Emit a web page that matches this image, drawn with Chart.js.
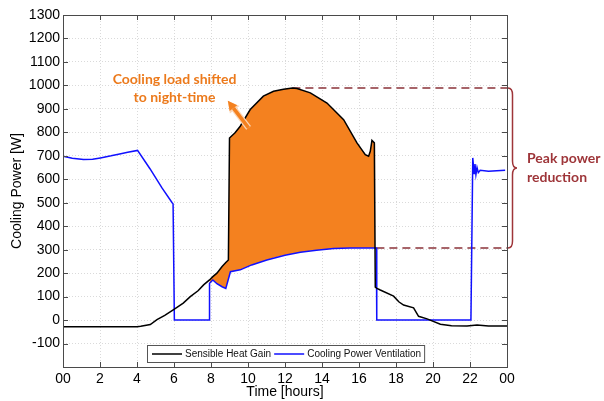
<!DOCTYPE html>
<html>
<head>
<meta charset="utf-8">
<style>
  html, body { margin: 0; padding: 0; background: #fff; }
  #wrap { width: 604px; height: 401px; }
</style>
<script src="https://cdn.jsdelivr.net/npm/chart.js@4/dist/chart.umd.min.js"></script>
</head>
<body>
<div id="wrap"><canvas id="cool" width="604" height="401"></canvas></div>
<script>
/* ---- data ---- */
var xTickLabels = ['00','2','4','6','8','10','12','14','16','18','20','22','00'];

/* Sensible heat gain (black) */
var heatTime  = [0, 4.0, 4.2, 4.72, 5.08, 5.5, 5.98, 6.5, 6.88, 7.3, 7.6, 7.92, 8.1, 8.32, 8.6, 8.8, 8.94,
                 9.0, 9.3, 9.58, 10.12, 10.83, 11.38, 11.92, 12.4, 12.65, 13.37, 14.27, 15.17, 15.89,
                 16.34, 16.52, 16.61, 16.7, 16.83, 16.88, 16.97, 17.15, 17.87, 18.15, 18.41, 18.95,
                 19.22, 19.68, 20.4, 21.0, 21.84, 22.38, 23.0, 24];
var heatValue = [-28, -28, -26, -19, 2, 20, 45, 72, 100, 125, 150, 171, 185, 200, 228, 245, 256,
                 776, 798, 826, 897, 954, 975, 984, 989, 987, 968, 925, 854, 755,
                 705, 698, 719, 766, 755, 140, 135, 128, 102, 78, 64, 52,
                 16, 5, -18, -24, -25, -21, -25, -25];

/* Cooling power ventilation (blue) */
var ventTime  = [0, 0.5, 1.11, 1.6, 2.02, 2.6, 3.0, 3.5, 4.03, 4.7, 5.35, 5.89, 5.95, 6.02,
                 7.9, 7.92, 8.1, 8.32, 8.6, 8.8, 9.05, 9.58, 10.2, 11.02, 12.0, 12.83, 13.7,
                 14.63, 15.5, 16.94, 16.96, 22.05, 22.15, 22.22, 22.27, 22.32, 22.38, 22.45, 22.55,
                 23.0, 23.9];
var ventValue = [698, 690, 684, 685, 691, 700, 707, 715, 723, 645, 563, 501, 495, 0,
                 0, 157, 171, 155, 142, 135, 206, 214, 235, 256, 276, 289, 298,
                 305, 307, 307, 0, 0, 691, 625, 665, 620, 650, 628, 638,
                 634, 638];

/* Orange area: load shifted to night-time */
var areaTime   = [7.92, 8.1, 8.32, 8.6, 8.8, 8.94, 9.0, 9.05, 9.3, 9.58, 10.12, 10.83, 11.38, 11.92,
                  12.4, 12.65, 13.37, 14.27, 15.17, 15.89, 16.34, 16.52, 16.61, 16.7, 16.83, 16.88];
var areaTop    = [171, 185, 200, 228, 245, 256, 776, 780, 798, 826, 897, 954, 975, 984,
                  989, 987, 968, 925, 854, 755, 705, 698, 719, 766, 755, 750];
var areaBottom = [157, 171, 155, 142, 135, 175, 195, 206, 210, 214, 232, 252, 266, 276,
                  283, 286, 295, 302, 306, 307, 307, 307, 307, 307, 307, 307];

/* Peak power reduction marks */
var peakLevel    = 989;
var peakStart    = 12.4;
var reducedLevel = 307;
var reducedStart = 16.94;

var ORANGE = '#f4811f';
var ORANGE_TXT = '#ec7a1c';
var DARKRED = '#9e3539';
var FONT = "'Liberation Sans', Arial, sans-serif";

function pts(xs, ys) {
  return xs.map(function (x, i) { return { x: x, y: ys[i] }; });
}

/* ---- plugin: box, inward ticks, legend, annotations ---- */
var decor = {
  id: 'decor',
  afterDatasetsDraw: function (chart) {
    var ctx = chart.ctx, a = chart.chartArea;
    var sx = chart.scales.x, sy = chart.scales.y;
    ctx.save();

    /* axes box */
    ctx.strokeStyle = '#4a4a4a';
    ctx.lineWidth = 1;
    ctx.strokeRect(Math.round(a.left) + 0.5, Math.round(a.top) + 0.5,
                   Math.round(a.right - a.left), Math.round(a.bottom - a.top));

    /* inward ticks */
    ctx.beginPath();
    sx.ticks.forEach(function (t) {
      var px = Math.round(sx.getPixelForValue(t.value)) + 0.5;
      ctx.moveTo(px, a.bottom); ctx.lineTo(px, a.bottom - 5);
      ctx.moveTo(px, a.top);    ctx.lineTo(px, a.top + 5);
    });
    sy.ticks.forEach(function (t) {
      var py = Math.round(sy.getPixelForValue(t.value)) + 0.5;
      ctx.moveTo(a.left, py);  ctx.lineTo(a.left + 5, py);
      ctx.moveTo(a.right, py); ctx.lineTo(a.right - 5, py);
    });
    ctx.stroke();

    /* legend */
    var lx = 147, ly = 345, lh = 17;
    ctx.font = '10px ' + FONT;
    var items = [chart.data.datasets[0], chart.data.datasets[1]];
    var w = 5;
    items.forEach(function (d) { w += 30 + 3 + ctx.measureText(d.label).width + 3; });
    ctx.fillStyle = '#fff';
    ctx.fillRect(lx, ly, w, lh);
    ctx.strokeStyle = '#555';
    ctx.strokeRect(lx + 0.5, ly + 0.5, w, lh);
    var cx = lx + 5, cy = ly + lh / 2 + 0.5;
    items.forEach(function (d) {
      ctx.strokeStyle = d.borderColor;
      ctx.lineWidth = 1.5;
      ctx.beginPath(); ctx.moveTo(cx, cy); ctx.lineTo(cx + 30, cy); ctx.stroke();
      cx += 33;
      ctx.fillStyle = '#111';
      ctx.textAlign = 'left'; ctx.textBaseline = 'middle';
      ctx.fillText(d.label, cx, cy);
      cx += ctx.measureText(d.label).width + 3;
    });

    /* arrow */
    var ax0 = sx.getPixelForValue(10.03), ay0 = sy.getPixelForValue(819);
    var ax1 = sx.getPixelForValue(8.95),  ay1 = sy.getPixelForValue(930);
    var ang = Math.atan2(ay1 - ay0, ax1 - ax0);
    function arrow(width, color, head) {
      ctx.strokeStyle = color; ctx.fillStyle = color;
      ctx.lineWidth = width; ctx.lineCap = 'butt';
      var bx = ax1 - Math.cos(ang) * head, by = ay1 - Math.sin(ang) * head;
      ctx.beginPath(); ctx.moveTo(ax0, ay0); ctx.lineTo(bx, by); ctx.stroke();
      ctx.beginPath();
      ctx.moveTo(ax1 + Math.cos(ang) * (head * 0.15), ay1 + Math.sin(ang) * (head * 0.15));
      ctx.lineTo(bx + Math.cos(ang + Math.PI / 2) * head * 0.6, by + Math.sin(ang + Math.PI / 2) * head * 0.6);
      ctx.lineTo(bx - Math.cos(ang + Math.PI / 2) * head * 0.6, by - Math.sin(ang + Math.PI / 2) * head * 0.6);
      ctx.closePath(); ctx.fill();
    }
    arrow(6, '#fbd6b6', 10);
    arrow(3.5, ORANGE, 8);

    /* orange note */
    ctx.fillStyle = ORANGE_TXT;
    ctx.font = 'bold 14px Lato, sans-serif';
    ctx.textAlign = 'center'; ctx.textBaseline = 'middle';
    var nx = sx.getPixelForValue(6.03);
    ctx.fillText('Cooling load shifted', nx, sy.getPixelForValue(1025));
    ctx.fillText('to night-time', nx, sy.getPixelForValue(947));

    /* brace */
    var yT = sy.getPixelForValue(peakLevel), yB = sy.getPixelForValue(reducedLevel);
    var yM = (yT + yB) / 2, x0 = a.right + 1, bw = 9, r = 7;
    ctx.strokeStyle = DARKRED; ctx.lineWidth = 1.5;
    ctx.beginPath();
    ctx.moveTo(x0, yT);
    ctx.quadraticCurveTo(x0 + bw / 2, yT, x0 + bw / 2, yT + r);
    ctx.lineTo(x0 + bw / 2, yM - r);
    ctx.quadraticCurveTo(x0 + bw / 2, yM, x0 + bw, yM);
    ctx.quadraticCurveTo(x0 + bw / 2, yM, x0 + bw / 2, yM + r);
    ctx.lineTo(x0 + bw / 2, yB - r);
    ctx.quadraticCurveTo(x0 + bw / 2, yB, x0, yB);
    ctx.stroke();

    ctx.fillStyle = DARKRED;
    ctx.font = 'bold 14px Lato, sans-serif';
    ctx.textAlign = 'left';
    ctx.fillText('Peak power', a.right + 20, yM - 10);
    ctx.fillText('reduction', a.right + 20, yM + 9);

    ctx.restore();
  }
};

new Chart(document.getElementById('cool'), {
  type: 'line',
  data: {
    datasets: [
      { label: 'Sensible Heat Gain', data: pts(heatTime, heatValue),
        borderColor: '#000', borderWidth: 1.5, pointRadius: 0, tension: 0, fill: false },
      { label: 'Cooling Power Ventilation', data: pts(ventTime, ventValue),
        borderColor: '#1010ff', borderWidth: 1.5, pointRadius: 0, tension: 0, fill: false },
      { label: 'areaTop', data: pts(areaTime, areaTop),
        borderWidth: 0, borderColor: 'rgba(0,0,0,0)', pointRadius: 0, tension: 0,
        backgroundColor: ORANGE, fill: '+1' },
      { label: 'areaBottom', data: pts(areaTime, areaBottom),
        borderWidth: 0, borderColor: 'rgba(0,0,0,0)', pointRadius: 0, tension: 0, fill: false },
      { label: 'peak', data: [{ x: peakStart, y: peakLevel }, { x: 24, y: peakLevel }],
        borderColor: '#8a3238', borderWidth: 1.6, borderDash: [8, 5], pointRadius: 0, fill: false },
      { label: 'reduced', data: [{ x: reducedStart, y: reducedLevel }, { x: 24, y: reducedLevel }],
        borderColor: '#8a3238', borderWidth: 1.6, borderDash: [8, 5], pointRadius: 0, fill: false }
    ]
  },
  options: {
    responsive: false,
    animation: false,
    devicePixelRatio: 1,
    layout: { padding: { top: 15, right: 97, left: 0, bottom: 0 } },
    plugins: { legend: { display: false }, tooltip: { enabled: false } },
    scales: {
      x: {
        type: 'linear', min: 0, max: 24,
        afterFit: function (s) { s.height = 34; },
        ticks: {
          stepSize: 2, padding: 4, color: '#000', maxRotation: 0, autoSkip: false,
          font: { family: FONT, size: 14 },
          callback: function (v) { return xTickLabels[Math.round(v / 2)]; }
        },
        grid: { color: '#dadada', drawTicks: false },
        border: { display: false, dash: [1, 2] },
        title: { display: true, text: 'Time [hours]', color: '#000',
                 font: { family: FONT, size: 14 }, padding: { top: 0, bottom: 0 } }
      },
      y: {
        min: -200, max: 1300,
        afterFit: function (s) { s.width = 63; },
        ticks: {
          stepSize: 100, padding: 3, color: '#000',
          font: { family: FONT, size: 14 },
          callback: function (v) { return v === -200 ? '' : (v < 0 ? '-' + Math.abs(v) : String(v)); }
        },
        grid: { color: '#dadada', drawTicks: false },
        border: { display: false, dash: [1, 2] },
        title: { display: true, text: 'Cooling Power [W]', color: '#000',
                 font: { family: FONT, size: 14 }, padding: { top: 9, bottom: 0 } }
      }
    }
  },
  plugins: [decor]
});
</script>
</body>
</html>
